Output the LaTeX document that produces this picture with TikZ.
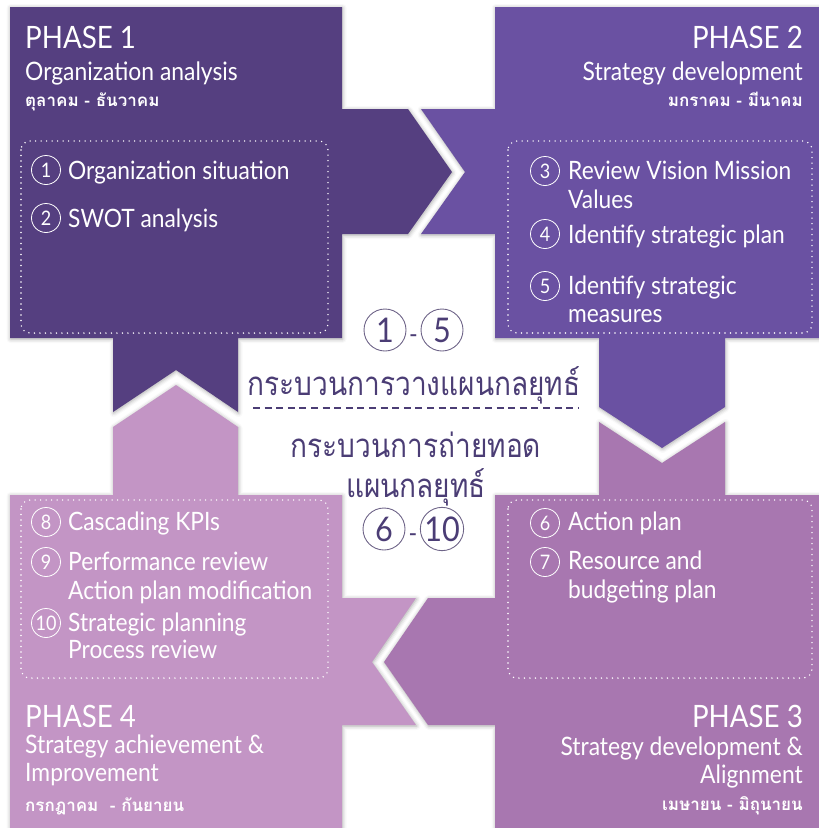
\documentclass[tikz,border=0pt]{standalone}
\usepackage{fontspec}
\setmainfont{Lato}[FakeStretch=0.9]
\newfontfamily\thai[Script=Thai]{Loma}
\newfontfamily\thaicond[Script=Thai,FakeStretch=0.85]{Loma}
\usetikzlibrary{shadows.blur}
\definecolor{pone}{HTML}{553F80}
\definecolor{ptwo}{HTML}{6A51A2}
\definecolor{pthree}{HTML}{A877B0}
\definecolor{pfour}{HTML}{C395C5}
\definecolor{ink}{HTML}{4B3D75}
\definecolor{ringgray}{HTML}{6E6488}
\tikzset{
  phase/.style={blur shadow={shadow xshift=0.6pt,shadow yshift=-1pt,shadow blur radius=4pt,shadow opacity=35}},
  dotbox/.style={draw=white, line width=1.6pt, dash pattern=on 0pt off 5.5pt, line cap=round, rounded corners=9pt},
  num/.style={circle, draw=white, line width=0.8pt, minimum size=29pt, inner sep=0pt, text=white, font=\fontsize{20}{20}\selectfont},
  bignum/.style={circle, draw=ringgray, line width=0.9pt, minimum size=42pt, inner sep=0pt, text=ink, font=\fontsize{34}{34}\selectfont},
  bigdash/.style={inner sep=0pt, text=ink, font=\fontsize{26}{26}\selectfont},
  ptitle/.style={inner sep=0pt, text=white, font=\fontsize{30.8}{30.8}\selectfont},
  psub/.style={inner sep=0pt, text=white, font=\fontsize{25.4}{25.4}\selectfont},
  pthai/.style={inner sep=0pt, text=white, font=\thai\bfseries\fontsize{17}{17}\selectfont},
  item/.style={inner sep=0pt, text=white, font=\fontsize{25.3}{25.3}\selectfont},
  cthai/.style={inner sep=0pt, text=ink, font=\thaicond\fontsize{33}{33}\selectfont},
}
\begin{document}
\begin{tikzpicture}[x=1pt,y=-1pt]
\useasboundingbox (0,0) rectangle (819,828);
% Phase 1
\fill[pone, phase] (10,7) -- (342,7) -- (342,109) -- (408,109) -- (452,172) -- (408,234) -- (342,234) -- (342,338) -- (238,338) -- (238,412) -- (176,370) -- (113,412) -- (113,338) -- (10,338) -- cycle;
% Phase 2
\fill[ptwo, phase] (495,7) -- (819,7) -- (819,338) -- (725,338) -- (725,407) -- (662,448) -- (599,407) -- (599,338) -- (495,338) -- (495,234) -- (421,234) -- (465,172) -- (421,109) -- (495,109) -- cycle;
% Phase 3
\fill[pthree, phase] (495,495) -- (599,495) -- (599,422) -- (662,463) -- (725,422) -- (725,495) -- (819,495) -- (819,828) -- (495,828) -- (495,725) -- (428,725) -- (384,662) -- (428,598) -- (495,598) -- cycle;
% Phase 4
\fill[pfour, phase] (10,495) -- (113,495) -- (113,427) -- (176,385) -- (238,427) -- (238,495) -- (342,495) -- (342,598) -- (416,598) -- (372,662) -- (416,725) -- (342,725) -- (342,828) -- (10,828) -- cycle;

% dotted boxes
\draw[dotbox] (21,141) rectangle (328,333);
\draw[dotbox] (508,141) rectangle (812,333);
\draw[dotbox] (508,500) rectangle (812,678);
\draw[dotbox] (21,500) rectangle (328,678);

% Phase 1 texts
\node[ptitle, anchor=base west] (t1) at (25,48) {PHASE 1};
\node[psub, anchor=base west] (s1) at (25,80) {Organization analysis};
\node[pthai, anchor=base west] (m1) at (25,106) {ตุลาคม - ธันวาคม};
\node[num] (n1) at (46,170) {1};
\node[item, anchor=base west] (i1) at (68,179) {Organization situation};
\node[num] (n2) at (46,218) {2};
\node[item, anchor=base west] (i2) at (68,227) {SWOT analysis};

% Phase 2 texts
\node[ptitle, anchor=base east] (t2) at (803,48) {PHASE 2};
\node[psub, anchor=base east] (s2) at (803,80) {Strategy development};
\node[pthai, anchor=base east] (m2) at (803,106) {มกราคม - มีนาคม};
\node[num] (n3) at (545,171) {3};
\node[item, anchor=base west] (i3a) at (568,179) {Review Vision Mission};
\node[item, anchor=base west] (i3b) at (568,208) {Values};
\node[num] (n4) at (545,234) {4};
\node[item, anchor=base west] (i4) at (568,243) {Identify strategic plan};
\node[num] (n5) at (545,286) {5};
\node[item, anchor=base west] (i5a) at (568,294) {Identify strategic};
\node[item, anchor=base west] (i5b) at (568,322) {measures};

% Phase 3 texts
\node[num] (n6) at (545,523) {6};
\node[item, anchor=base west] (i6) at (568,530) {Action plan};
\node[num] (n7) at (545,562) {7};
\node[item, anchor=base west] (i7a) at (568,569) {Resource and};
\node[item, anchor=base west] (i7b) at (568,598) {budgeting plan};
\node[ptitle, anchor=base east] (t3) at (803,727) {PHASE 3};
\node[psub, anchor=base east] (s3) at (803,755) {Strategy development \&};
\node[psub, anchor=base east] (s3b) at (803,783) {Alignment};
\node[pthai, anchor=base east] (m3) at (803,810) {เมษายน - มิถุนายน};

% Phase 4 texts
\node[num] (n8) at (46,522) {8};
\node[item, anchor=base west] (i8) at (68,530) {Cascading KPIs};
\node[num] (n9) at (46,562) {9};
\node[item, anchor=base west] (i9a) at (68,570) {Performance review};
\node[item, anchor=base west] (i9b) at (68,599) {Action plan modification};
\node[num] (n10) at (46,623) {10};
\node[item, anchor=base west] (i10a) at (68,631) {Strategic planning};
\node[item, anchor=base west] (i10b) at (68,658) {Process review};
\node[ptitle, anchor=base west] (t4) at (25,727) {PHASE 4};
\node[psub, anchor=base west] (s4) at (25,753) {Strategy achievement \&};
\node[psub, anchor=base west] (s4b) at (25,781) {Improvement};
\node[pthai, anchor=base west] (m4) at (25,811) {กรกฎาคม\ \ - กันยายน};

% centre
\node[bignum] (c1) at (385,330) {1};
\node[bignum] (c5) at (442,330) {5};
\node[bigdash, anchor=base] (d1) at (413.5,343) {-};
\node[cthai, anchor=base] (l1) at (414,395) {กระบวนการวางแผนกลยุทธ์};
\coordinate (dl) at (253,408);
\coordinate (dr) at (578,408);
\draw[ink, line width=1.6pt, dash pattern=on 7pt off 4.6pt] (dl) -- (dr);
\node[cthai, anchor=base] (l2) at (416,457) {กระบวนการถ่ายทอด};
\node[cthai, anchor=base] (l3) at (416,497) {แผนกลยุทธ์};
\node[bignum] (c6) at (384,529) {6};
\node[bignum] (c10) at (442,529) {10};
\node[bigdash, anchor=base] (d2) at (413,542) {-};
\end{tikzpicture}
\end{document}
